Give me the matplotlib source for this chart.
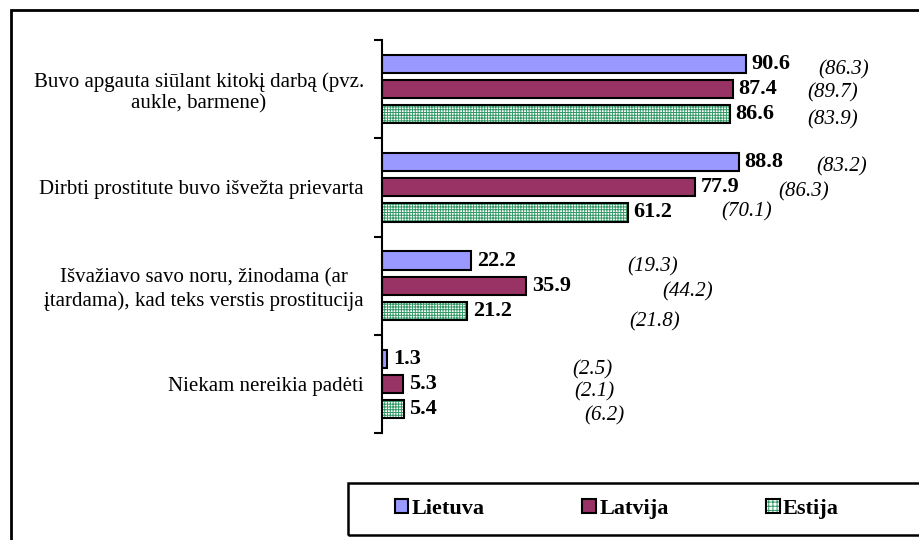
#!/usr/bin/env python3

import matplotlib

matplotlib.use("Agg")
import matplotlib.pyplot as plt
import numpy as np
from matplotlib.legend_handler import HandlerTuple
from matplotlib.patches import Patch, Rectangle

categories = [
    "Buvo apgauta siūlant kitokį darbą (pvz.\naukle, barmene)",
    "Dirbti prostitute buvo išvežta prievarta",
    "Išvažiavo savo noru, žinodama (ar\nįtardama), kad teks verstis prostitucija",
    "Niekam nereikia padėti",
]
countries = ["Lietuva", "Latvija", "Estija"]
lietuva = [90.6, 88.8, 22.2, 1.3]
latvija = [87.4, 77.9, 35.9, 5.3]
estija = [86.6, 61.2, 21.2, 5.4]

# earlier survey values shown in brackets, per category: Lietuva, Latvija, Estija
previous = [
    [86.3, 89.7, 83.9],
    [83.2, 86.3, 70.1],
    [19.3, 44.2, 21.8],
    [2.5, 2.1, 6.2],
]
# where the bracketed values sit (value units, category units)
previous_pos = [
    [(115.0, -0.195), (112.3, 0.04), (112.3, 0.31)],
    [(114.5, 0.79), (105.1, 1.05), (90.9, 1.25)],
    [(67.5, 1.81), (76.2, 2.06), (68.0, 2.37)],
    [(52.3, 2.86), (53.0, 3.08), (55.3, 3.33)],
]

colors = ["#9999ff", "#993366"]
green = "#339966"
serif = "Liberation Serif"


def main():
    plt.rcParams["font.family"] = serif
    plt.rcParams["hatch.linewidth"] = 0.7

    fig = plt.figure(figsize=(9.19, 5.40), dpi=100)
    ax = fig.add_axes([382 / 919, (540 - 433) / 540, 522 / 919, 393 / 540])

    y = np.arange(len(categories))
    h = 0.185
    off = 0.255

    ax.barh(y - off, lietuva, h, color=colors[0], edgecolor="black", lw=1.5)
    ax.barh(y, latvija, h, color=colors[1], edgecolor="black", lw=1.5)
    ax.barh(y + off, estija, h, color="white", edgecolor=green, hatch="++++++", lw=0)
    ax.barh(y + off, estija, h, fill=False, edgecolor="black", lw=1.5)

    for vals, dy in zip([lietuva, latvija, estija], [-off, 0, off]):
        for i, v in enumerate(vals):
            ax.annotate(f"{v:.1f}", (v, i + dy), xytext=(4, 0), textcoords="offset points",
                        va="center", ha="left", fontsize=16, fontweight="bold")

    for i, row in enumerate(previous):
        for v, (px, py) in zip(row, previous_pos[i]):
            ax.text(px, py, f"({v:.1f})", ha="center", va="center",
                    fontsize=15, fontstyle="italic")

    ax.set_xlim(0, 130)
    ax.set_ylim(len(categories) - 0.5, -0.5)

    for s in ["top", "right", "bottom"]:
        ax.spines[s].set_visible(False)
    ax.spines["left"].set_linewidth(1.5)
    ax.set_xticks([])

    ax.set_yticks(np.arange(len(categories) + 1) - 0.5)
    ax.set_yticklabels([])
    ax.tick_params(axis="y", which="major", direction="out", length=6, width=1.5)
    ax.set_yticks(y, minor=True)
    ax.set_yticklabels(categories, minor=True, fontsize=15,
                       multialignment="center", linespacing=1.2)
    ax.tick_params(axis="y", which="minor", length=0, pad=13)

    # outer chart frame and legend box, both running past the right edge
    fig.patches.append(Rectangle((11 / 919, -0.1), 1.2, (530 / 540) + 0.1,
                                 transform=fig.transFigure, fill=False,
                                 edgecolor="black", lw=2))
    fig.patches.append(Rectangle((348 / 919, 5 / 540), 1.0, 52 / 540,
                                 transform=fig.transFigure, fill=False,
                                 edgecolor="black", lw=1.8))

    handles = [
        Patch(facecolor=colors[0], edgecolor="black", lw=1.5),
        Patch(facecolor=colors[1], edgecolor="black", lw=1.5),
        (Patch(facecolor="white", edgecolor=green, hatch="++++", lw=0),
         Patch(fill=False, edgecolor="black", lw=1.5)),
    ]
    fig.legend(handles, countries, loc="center left",
               bbox_to_anchor=(395 / 919, 31 / 540),
               ncol=3, frameon=False,
               handlelength=0.6, handleheight=0.6, handletextpad=0.15,
               columnspacing=4.4, borderpad=0, borderaxespad=0,
               prop={"family": serif, "weight": "bold", "size": 16},
               handler_map={tuple: HandlerTuple(ndivide=1)})

    fig.savefig("out.png", dpi=100)


if __name__ == "__main__":
    main()
